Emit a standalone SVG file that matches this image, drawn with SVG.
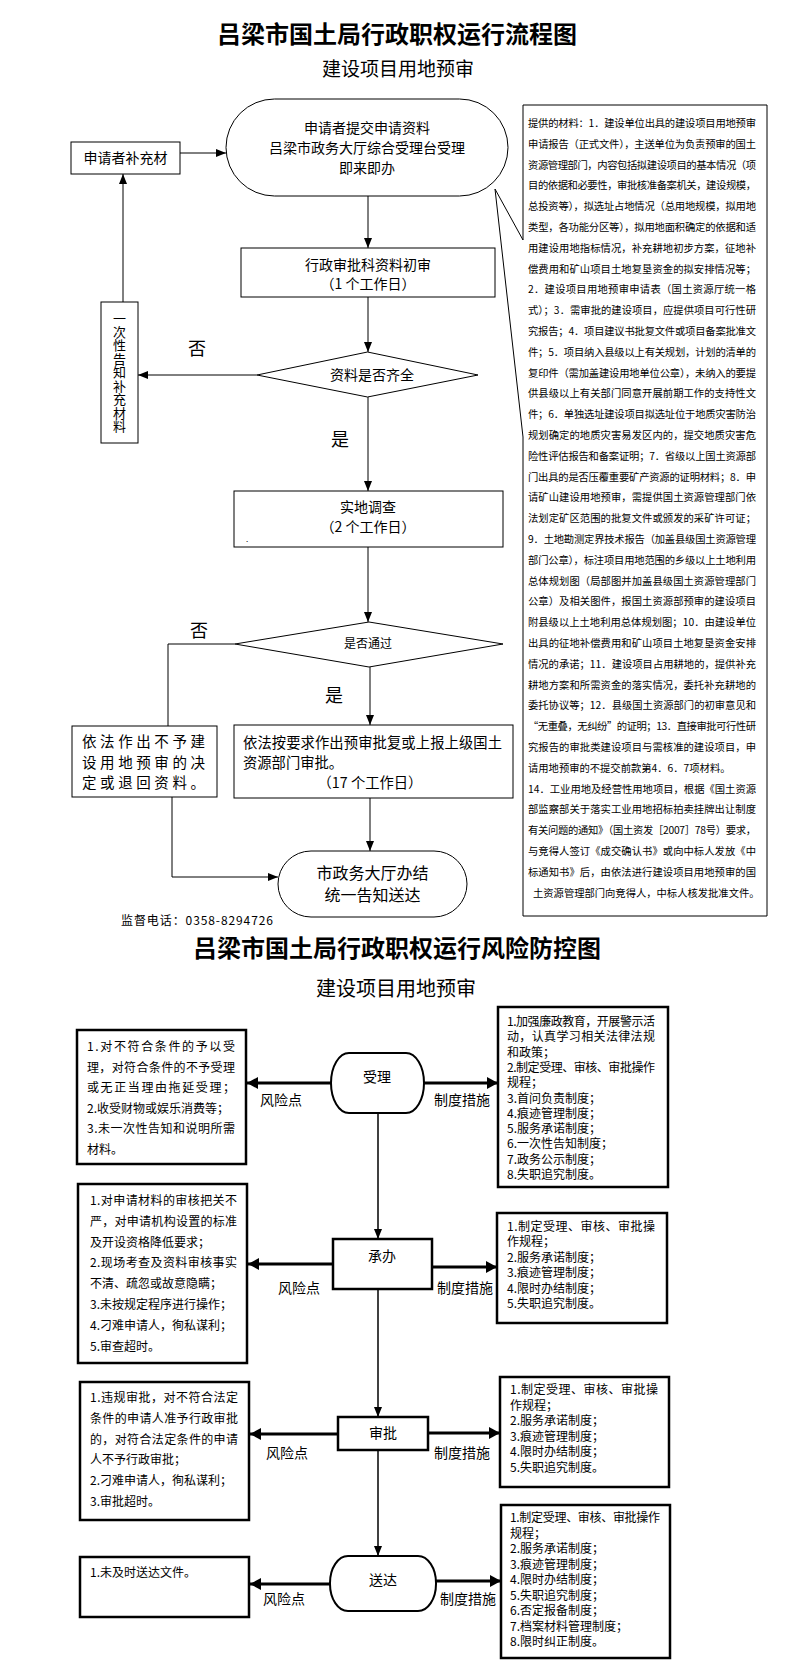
<svg xmlns="http://www.w3.org/2000/svg" width="793" height="1680" viewBox="0 0 793 1680">
<defs>
<style>
text{font-family:"Noto Sans CJK SC","Liberation Sans",sans-serif;fill:#000}
.b{fill:#fff;stroke:#000;stroke-width:1}
.rb{fill:#fff;stroke:#000;stroke-width:2.5}
.ln{stroke:#000;stroke-width:1;fill:none}
.vl{stroke:#000;stroke-width:1.5;fill:none}
.tl{stroke:#000;stroke-width:3;fill:none}
.f14{font-size:14px}
.c{text-anchor:middle}
.sm{font-size:10.3px}
.r12{font-size:12px}
.lab{font-size:14px;text-anchor:middle}
</style>
<marker id="a" markerWidth="10" markerHeight="8" refX="10" refY="4" orient="auto" markerUnits="userSpaceOnUse"><path d="M0,0 L10,4 L0,8 z" fill="#000"/></marker>
<marker id="k" markerWidth="11" markerHeight="12" refX="11" refY="6" orient="auto" markerUnits="userSpaceOnUse"><path d="M0,0 L11,6 L0,12 z" fill="#000"/></marker>
</defs>
<rect width="793" height="1680" fill="#fff"/>

<text x="397" y="43" class="c" font-size="24" font-weight="bold">吕梁市国土局行政职权运行流程图</text>
<text x="398" y="76" class="c" font-size="19">建设项目用地预审</text>

<g id="connectors">
<line class="ln" x1="180" y1="153" x2="226" y2="153" marker-end="url(#a)"/>
<line class="ln" x1="368" y1="196" x2="368" y2="248" marker-end="url(#a)"/>
<line class="ln" x1="368" y1="297" x2="368" y2="352" marker-end="url(#a)"/>
<line class="ln" x1="257" y1="375" x2="138" y2="375" marker-end="url(#a)"/>
<line class="ln" x1="123" y1="302" x2="123" y2="174" marker-end="url(#a)"/>
<line class="ln" x1="368" y1="397" x2="368" y2="491" marker-end="url(#a)"/>
<line class="ln" x1="368" y1="547" x2="368" y2="622" marker-end="url(#a)"/>
<polyline class="ln" points="235,644 168,644 168,726"/>
<line class="ln" x1="370" y1="667" x2="370" y2="725" marker-end="url(#a)"/>
<polyline class="ln" points="172,797 172,877 278,877" marker-end="url(#a)"/>
<line class="ln" x1="370" y1="798" x2="370" y2="851" marker-end="url(#a)"/>

<line class="vl" x1="378" y1="1113" x2="378" y2="1239" marker-end="url(#a)"/>
<line class="vl" x1="378" y1="1289" x2="378" y2="1417" marker-end="url(#a)"/>
<line class="vl" x1="378" y1="1450" x2="378" y2="1556" marker-end="url(#a)"/>
<line class="tl" x1="331" y1="1083" x2="247" y2="1083" marker-end="url(#k)"/>
<line class="tl" x1="424" y1="1083" x2="498" y2="1083" marker-end="url(#k)"/>
<line class="tl" x1="333" y1="1264" x2="248" y2="1264" marker-end="url(#k)"/>
<line class="tl" x1="432" y1="1267" x2="497" y2="1267" marker-end="url(#k)"/>
<line class="tl" x1="338" y1="1434" x2="250" y2="1434" marker-end="url(#k)"/>
<line class="tl" x1="428" y1="1433" x2="500" y2="1433" marker-end="url(#k)"/>
<line class="tl" x1="330" y1="1584" x2="250" y2="1584" marker-end="url(#k)"/>
<line class="tl" x1="436" y1="1581" x2="501" y2="1581" marker-end="url(#k)"/>
</g>

<g id="start">
<rect class="b" x="226" y="99" width="282" height="97" rx="48.5"/>
<text class="f14 c" x="367" y="133">申请者提交申请资料</text>
<text class="f14 c" x="367" y="153">吕梁市政务大厅综合受理台受理</text>
<text class="f14 c" x="367" y="173">即来即办</text>
</g>
<g id="supplement">
<rect class="b" x="71" y="142" width="109" height="32"/>
<text class="f14 c" x="125.5" y="163">申请者补充材</text>
</g>
<g id="notify">
<rect class="b" x="101" y="302" width="37" height="141"/>
<text x="119.5" y="372.5" font-size="13" writing-mode="tb" text-anchor="middle" letter-spacing="0.5">一次性告知补充材料</text>
</g>
<g id="first-review">
<rect class="b" x="241" y="248" width="254" height="49"/>
<text class="f14 c" x="368" y="270">行政审批科资料初审</text>
<text class="f14 c" x="368" y="289">（1 个工作日）</text>
</g>
<g id="decision1">
<polygon class="b" points="257,375 367.5,352 478,375 367.5,397"/>
<text class="f14 c" x="372" y="380">资料是否齐全</text>
<text x="197" y="355" font-size="18" class="c">否</text>
<text x="340" y="446" font-size="18" class="c">是</text>
</g>
<g id="survey">
<rect class="b" x="234" y="491" width="269" height="56"/>
<text class="f14 c" x="368" y="512">实地调查</text>
<text class="f14 c" x="368" y="532">（2 个工作日）</text>
<text x="246" y="542" font-size="8">.</text>
</g>
<g id="decision2">
<polygon class="b" points="235,644 369,622 503,644 369,667"/>
<text font-size="12" class="c" x="368" y="648">是否通过</text>
<text x="199" y="637" font-size="18" class="c">否</text>
<text x="334" y="702" font-size="18" class="c">是</text>
</g>
<g id="reject">
<rect class="b" x="72" y="726" width="145" height="71"/>
<text font-size="14.5" x="82" y="747" textLength="123" lengthAdjust="spacing">依法作出不予建</text>
<text font-size="14.5" x="82" y="768" textLength="123" lengthAdjust="spacing">设用地预审的决</text>
<text font-size="14.5" x="82" y="788" textLength="123" lengthAdjust="spacing">定或退回资料。</text>
</g>
<g id="approve">
<rect class="b" x="234" y="725" width="279" height="73"/>
<text font-size="14.3" x="243" y="748" textLength="259" lengthAdjust="spacing">依法按要求作出预审批复或上报上级国土</text>
<text font-size="14.3" x="243" y="768">资源部门审批。</text>
<text font-size="14.3" class="c" x="370" y="788">（17 个工作日）</text>
</g>
<g id="end">
<rect class="b" x="278" y="851" width="189" height="66" rx="33"/>
<text font-size="16" class="c" x="372.5" y="879">市政务大厅办结</text>
<text font-size="16" class="c" x="372.5" y="901">统一告知送达</text>
</g>

<g id="materials">
<path class="b" d="M523,105 H767 V916 H523 V437 L495,189 L523,240 Z"/>
<g class="sm">
<text x="528" y="127" textLength="228" lengthAdjust="spacing">提供的材料：1．建设单位出具的建设项目用地预审</text>
<text x="528" y="147.8" textLength="228" lengthAdjust="spacing">申请报告（正式文件），主送单位为负责预审的国土</text>
<text x="528" y="168.6" textLength="228" lengthAdjust="spacing">资源管理部门，内容包括拟建设项目的基本情况（项</text>
<text x="528" y="189.4" textLength="228" lengthAdjust="spacing">目的依据和必要性，审批核准备案机关，建设规模，</text>
<text x="528" y="210.2" textLength="228" lengthAdjust="spacing">总投资等），拟选址占地情况（总用地规模，拟用地</text>
<text x="528" y="231" textLength="228" lengthAdjust="spacing">类型，各功能分区等），拟用地面积确定的依据和适</text>
<text x="528" y="251.8" textLength="228" lengthAdjust="spacing">用建设用地指标情况，补充耕地初步方案，征地补</text>
<text x="528" y="272.6" textLength="228" lengthAdjust="spacing">偿费用和矿山项目土地复垦资金的拟安排情况等；</text>
<text x="528" y="293.4" textLength="228" lengthAdjust="spacing">2．建设项目用地预审申请表（国土资源厅统一格</text>
<text x="528" y="314.2" textLength="228" lengthAdjust="spacing">式）；3．需审批的建设项目，应提供项目可行性研</text>
<text x="528" y="335" textLength="228" lengthAdjust="spacing">究报告；4．项目建议书批复文件或项目备案批准文</text>
<text x="528" y="355.8" textLength="228" lengthAdjust="spacing">件；5．项目纳入县级以上有关规划，计划的清单的</text>
<text x="528" y="376.6" textLength="228" lengthAdjust="spacing">复印件（需加盖建设用地单位公章），未纳入的要提</text>
<text x="528" y="397.4" textLength="228" lengthAdjust="spacing">供县级以上有关部门同意开展前期工作的支持性文</text>
<text x="528" y="418.2" textLength="228" lengthAdjust="spacing">件；6．单独选址建设项目拟选址位于地质灾害防治</text>
<text x="528" y="439" textLength="228" lengthAdjust="spacing">规划确定的地质灾害易发区内的，提交地质灾害危</text>
<text x="528" y="459.8" textLength="228" lengthAdjust="spacing">险性评估报告和备案证明；7．省级以上国土资源部</text>
<text x="528" y="480.6" textLength="228" lengthAdjust="spacing">门出具的是否压覆重要矿产资源的证明材料；8．申</text>
<text x="528" y="501.4" textLength="228" lengthAdjust="spacing">请矿山建设用地预审，需提供国土资源管理部门依</text>
<text x="528" y="522.2" textLength="228" lengthAdjust="spacing">法划定矿区范围的批复文件或颁发的采矿许可证；</text>
<text x="528" y="543" textLength="228" lengthAdjust="spacing">9．土地勘测定界技术报告（加盖县级国土资源管理</text>
<text x="528" y="563.8" textLength="228" lengthAdjust="spacing">部门公章），标注项目用地范围的乡级以上土地利用</text>
<text x="528" y="584.6" textLength="228" lengthAdjust="spacing">总体规划图（局部图并加盖县级国土资源管理部门</text>
<text x="528" y="605.4" textLength="228" lengthAdjust="spacing">公章）及相关图件，报国土资源部预审的建设项目</text>
<text x="528" y="626.2" textLength="228" lengthAdjust="spacing">附县级以上土地利用总体规划图；10．由建设单位</text>
<text x="528" y="647" textLength="228" lengthAdjust="spacing">出具的征地补偿费用和矿山项目土地复垦资金安排</text>
<text x="528" y="667.8" textLength="228" lengthAdjust="spacing">情况的承诺；11．建设项目占用耕地的，提供补充</text>
<text x="528" y="688.6" textLength="228" lengthAdjust="spacing">耕地方案和所需资金的落实情况，委托补充耕地的</text>
<text x="528" y="709.4" textLength="228" lengthAdjust="spacing">委托协议等；12．县级国土资源部门的初审意见和</text>
<text x="528" y="730.2" textLength="228" lengthAdjust="spacing">“无重叠，无纠纷”的证明；13．直接审批可行性研</text>
<text x="528" y="751" textLength="228" lengthAdjust="spacing">究报告的审批类建设项目与需核准的建设项目，申</text>
<text x="528" y="771.8">请用地预审的不提交前款第4．6．7项材料。</text>
<text x="528" y="792.6" textLength="228" lengthAdjust="spacing">14．工业用地及经营性用地项目，根据《国土资源</text>
<text x="528" y="813.4" textLength="228" lengthAdjust="spacing">部监察部关于落实工业用地招标拍卖挂牌出让制度</text>
<text x="528" y="834.2" textLength="228" lengthAdjust="spacing">有关问题的通知》（国土资发［2007］78号）要求，</text>
<text x="528" y="855" textLength="228" lengthAdjust="spacing">与竞得人签订《成交确认书》或向中标人发放《中</text>
<text x="528" y="875.8" textLength="228" lengthAdjust="spacing">标通知书》后，由依法进行建设项目用地预审的国</text>
<text x="533" y="896.6">土资源管理部门向竞得人，中标人核发批准文件。</text>
</g>
</g>

<text x="121" y="925" font-size="12" textLength="152" lengthAdjust="spacing">监督电话：0358-8294726</text>

<text x="397" y="957" class="c" font-size="24" font-weight="bold">吕梁市国土局行政职权运行风险防控图</text>
<text x="396" y="996" class="c" font-size="20">建设项目用地预审</text>

<g id="accept">
<rect x="331" y="1053" width="93" height="60" rx="18" ry="30" fill="#fff" stroke="#000" stroke-width="2"/>
<text class="lab" x="377" y="1082">受理</text>
<text class="lab" x="281" y="1105">风险点</text>
<text class="lab" x="462" y="1105">制度措施</text>
</g>
<g id="risk1" class="r12">
<rect class="rb" x="77" y="1030" width="169" height="134"/>
<text x="87" y="1051" textLength="148" lengthAdjust="spacing">1.对不符合条件的予以受</text>
<text x="87" y="1071.5" textLength="148" lengthAdjust="spacing">理，对符合条件的不予受理</text>
<text x="87" y="1092" textLength="148" lengthAdjust="spacing">或无正当理由拖延受理；</text>
<text x="87" y="1112.5">2.收受财物或娱乐消费等；</text>
<text x="87" y="1133" textLength="148" lengthAdjust="spacing">3.未一次性告知和说明所需</text>
<text x="87" y="1153.5">材料。</text>
</g>
<g id="measure1" class="r12">
<rect class="rb" x="498" y="1007" width="170" height="180"/>
<text x="507" y="1026" textLength="148" lengthAdjust="spacing">1.加强廉政教育，开展警示活</text>
<text x="507" y="1041.3" textLength="148" lengthAdjust="spacing">动，认真学习相关法律法规</text>
<text x="507" y="1056.6">和政策；</text>
<text x="507" y="1071.9" textLength="148" lengthAdjust="spacing">2.制定受理、审核、审批操作</text>
<text x="507" y="1087.2">规程；</text>
<text x="507" y="1102.5">3.首问负责制度；</text>
<text x="507" y="1117.8">4.痕迹管理制度；</text>
<text x="507" y="1133.1">5.服务承诺制度；</text>
<text x="507" y="1148.4">6.一次性告知制度；</text>
<text x="507" y="1163.7">7.政务公示制度；</text>
<text x="507" y="1179">8.失职追究制度。</text>
</g>

<g id="handle">
<rect class="rb" x="333" y="1239" width="99" height="50"/>
<text class="lab" x="382" y="1261">承办</text>
<text class="lab" x="299" y="1293">风险点</text>
<text class="lab" x="465" y="1293">制度措施</text>
</g>
<g id="risk2" class="r12">
<rect class="rb" x="78" y="1184" width="169" height="179"/>
<text x="90" y="1205" textLength="147" lengthAdjust="spacing">1.对申请材料的审核把关不</text>
<text x="90" y="1225.8" textLength="147" lengthAdjust="spacing">严，对申请机构设置的标准</text>
<text x="90" y="1246.6">及开设资格降低要求；</text>
<text x="90" y="1267.4" textLength="147" lengthAdjust="spacing">2.现场考查及资料审核事实</text>
<text x="90" y="1288.2">不清、疏忽或故意隐瞒；</text>
<text x="90" y="1309">3.未按规定程序进行操作；</text>
<text x="90" y="1329.8">4.刁难申请人，徇私谋利；</text>
<text x="90" y="1350.6">5.审查超时。</text>
</g>
<g id="measure2" class="r12">
<rect class="rb" x="497" y="1213" width="170" height="110"/>
<text x="507" y="1231" textLength="148" lengthAdjust="spacing">1.制定受理、审核、审批操</text>
<text x="507" y="1246.4">作规程；</text>
<text x="507" y="1261.8">2.服务承诺制度；</text>
<text x="507" y="1277.2">3.痕迹管理制度；</text>
<text x="507" y="1292.6">4.限时办结制度；</text>
<text x="507" y="1308">5.失职追究制度。</text>
</g>

<g id="approve2">
<rect class="rb" x="338" y="1417" width="90" height="33"/>
<text class="lab" x="383" y="1438">审批</text>
<text class="lab" x="287" y="1458">风险点</text>
<text class="lab" x="462" y="1458">制度措施</text>
</g>
<g id="risk3" class="r12">
<rect class="rb" x="80" y="1382" width="169" height="138"/>
<text x="90" y="1402" textLength="148" lengthAdjust="spacing">1.违规审批，对不符合法定</text>
<text x="90" y="1422.8" textLength="148" lengthAdjust="spacing">条件的申请人准予行政审批</text>
<text x="90" y="1443.6" textLength="148" lengthAdjust="spacing">的，对符合法定条件的申请</text>
<text x="90" y="1464.4">人不予行政审批；</text>
<text x="90" y="1485.2">2.刁难申请人，徇私谋利；</text>
<text x="90" y="1506">3.审批超时。</text>
</g>
<g id="measure3" class="r12">
<rect class="rb" x="500" y="1377" width="169" height="110"/>
<text x="510" y="1394" textLength="148" lengthAdjust="spacing">1.制定受理、审核、审批操</text>
<text x="510" y="1409.5">作规程；</text>
<text x="510" y="1425">2.服务承诺制度；</text>
<text x="510" y="1440.5">3.痕迹管理制度；</text>
<text x="510" y="1456">4.限时办结制度；</text>
<text x="510" y="1471.5">5.失职追究制度。</text>
</g>

<g id="deliver">
<rect x="330" y="1556" width="106" height="55" rx="18" ry="27" fill="#fff" stroke="#000" stroke-width="2"/>
<text class="lab" x="383" y="1585">送达</text>
<text class="lab" x="284" y="1604">风险点</text>
<text class="lab" x="468" y="1604">制度措施</text>
</g>
<g id="risk4" class="r12">
<rect class="rb" x="80" y="1557" width="169" height="60"/>
<text x="90" y="1577">1.未及时送达文件。</text>
</g>
<g id="measure4" class="r12">
<rect class="rb" x="501" y="1505" width="169" height="153"/>
<text x="510" y="1522" textLength="150" lengthAdjust="spacing">1.制定受理、审核、审批操作</text>
<text x="510" y="1537.5">规程；</text>
<text x="510" y="1553">2.服务承诺制度；</text>
<text x="510" y="1568.5">3.痕迹管理制度；</text>
<text x="510" y="1584">4.限时办结制度；</text>
<text x="510" y="1599.5">5.失职追究制度；</text>
<text x="510" y="1615">6.否定报备制度；</text>
<text x="510" y="1630.5">7.档案材料管理制度；</text>
<text x="510" y="1646">8.限时纠正制度。</text>
</g>
</svg>
